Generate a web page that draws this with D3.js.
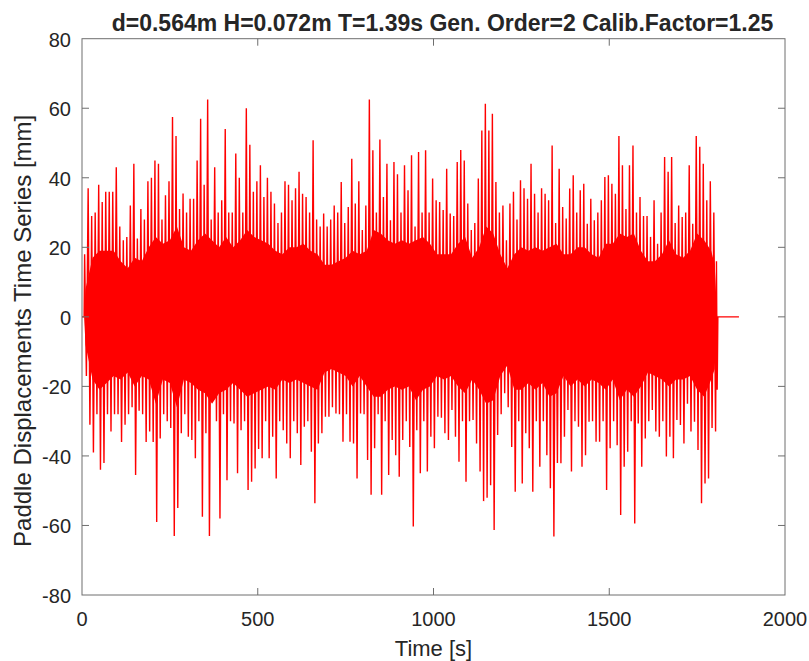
<!DOCTYPE html>
<html>
<head>
<meta charset="utf-8">
<script src="https://cdn.jsdelivr.net/npm/d3@7"></script>
<style>
  body { margin: 0; background: #fff; }
  text { font-family: Arial, "Liberation Sans", Helvetica, sans-serif; fill: #262626; }
</style>
</head>
<body>
<div id="chart"></div>
<script>
// Bin centres every 10 s from 10 s to 1800 s (max / min per bin, mm)
const binStart = 10;
const binStep = 10;
const peakHi = [
  18, 37, 29, 30, 38, 33, 36, 36, 36, 43,
  26, 22, 23, 32, 44, 22.5, 31, 28, 39, 40,
  45, 44, 28, 35, 39, 57.5, 52, 31, 35.5, 30,
  34, 34, 45, 57, 38, 62.5, 28, 43, 30, 33.5,
  54, 30, 30, 47, 40, 30, 60, 49.5, 36, 39,
  43.6, 34.5, 40, 36, 32.6, 27, 30, 39, 38, 33.5,
  37, 41.7, 35.4, 34.5, 30, 50.8, 28, 26, 29.7, 26,
  28, 32, 30, 38.8, 27, 31.6, 45.5, 32.6, 39, 25,
  32, 62.5, 47.9, 30, 51, 34.5, 44, 27.8, 44.5, 41,
  30, 43.6, 36.4, 46.5, 26, 47.4, 30, 47.9, 30, 39.8,
  33.5, 33, 30.7, 42.6, 29.7, 29, 44.5, 48, 45, 32.6,
  25, 27, 39.8, 53.6, 61.3, 53.6, 58.4, 38.8, 30, 32,
  22, 32.6, 36, 28, 39.3, 37, 34, 44, 35.4, 30,
  37, 35.4, 33.5, 49.3, 27, 42.6, 31.6, 28.3, 36.9, 40.7,
  30, 36.4, 38.3, 26.8, 34, 27.8, 30, 33.5, 40.2, 40.7,
  38.3, 35.4, 52, 43.6, 31, 43.6, 49.3, 30, 34.5, 29,
  29, 23, 33.5, 21, 30, 46, 41.7, 46, 27, 32,
  28.7, 30, 43.6, 26.8, 52, 48.9, 44, 33.5, 39, 30
];
const peakLo = [
  -17, -31, -39, -28, -44, -42, -28, -33, -28, -28,
  -36, -31, -28, -26, -45.5, -27, -28, -36, -33, -36,
  -59, -35, -28, -30, -32, -63, -55, -33.5, -28, -34.5,
  -35.4, -40.7, -30, -57.5, -33.5, -63, -24, -30, -58, -28,
  -47, -30, -30.7, -45, -32.6, -30, -49.8, -47.4, -43.6, -38,
  -40.7, -30, -40.7, -34.5, -46.5, -30, -32.6, -36.4, -40.7, -30,
  -33.5, -42.6, -31.6, -30, -38.8, -53.6, -36.4, -33.5, -28.7, -28.7,
  -26, -27.8, -28, -35.9, -28, -35.9, -36.4, -46.5, -27.8, -28,
  -41.2, -51.2, -37.8, -28, -51.2, -30, -45.5, -35.4, -39.8, -46,
  -35.4, -30, -37.4, -60.3, -32.6, -45, -30, -44.5, -34.5, -37.8,
  -28.7, -29, -33.5, -35.4, -26.8, -34.5, -41.7, -30, -47.4, -30,
  -29.7, -36.4, -44.5, -53, -52, -48.4, -61.3, -34, -28, -22,
  -26, -37.4, -50.3, -30, -47.9, -33.5, -37.8, -50.3, -30, -43.1,
  -30, -39.8, -49.3, -63.2, -42, -42.1, -34.5, -26.8, -44.5, -30,
  -31.6, -43.1, -39.8, -30.2, -30, -35.9, -35.9, -30, -49.8, -37.8,
  -30, -36.9, -57, -43.1, -38.8, -30, -59.4, -30.7, -43.1, -35,
  -30, -26.8, -33, -34.5, -30, -40.2, -34.5, -40.7, -29.7, -31.1,
  -36.4, -25, -33, -30.2, -38.3, -53.6, -47.9, -46.5, -32, -33
];
// quiet start and tail of the record
const headT = [0, 6];
const headV = [0, 0];
const tailT = [1805, 1807, 1809, 1869];
const tailV = [16, -21, 0, 0];

// edge of the solid core, every 20 s from 10 s to 1790 s (mm)
const coreStart = 10;
const coreStep = 20;
const coreHi = [
  8, 17, 19, 19, 19, 16, 14, 17, 16, 20,
  23, 21, 22, 26, 20, 19, 22, 24, 22, 20,
  23, 20, 22, 25, 23, 22, 21, 19, 18, 20,
  20, 21, 19, 18, 15, 15, 16, 17, 19, 18,
  19, 25, 24, 22, 21, 22, 21, 22, 23, 21,
  18, 18, 18, 21, 23, 17, 20, 26, 24, 18,
  14, 18, 20, 19, 20, 19, 20, 21, 18, 18,
  20, 20, 18, 17, 21, 21, 24, 23, 24, 19,
  16, 16, 18, 22, 18, 17, 19, 24, 22, 19
];
const coreLo = [
  -8, -18, -21, -19, -17, -18, -16, -20, -17, -18,
  -25, -18, -19, -26, -18, -19, -21, -22, -25, -22,
  -21, -19, -21, -23, -22, -21, -20, -21, -18, -19,
  -18, -19, -20, -21, -16, -15, -16, -17, -20, -17,
  -20, -23, -23, -21, -20, -21, -20, -24, -21, -20,
  -17, -18, -17, -20, -22, -18, -21, -25, -24, -17,
  -14, -21, -21, -19, -21, -19, -23, -22, -17, -20,
  -18, -20, -18, -19, -21, -18, -24, -21, -23, -20,
  -16, -17, -18, -20, -18, -18, -17, -21, -23, -18
];
const coreEndT = [1800, 1807];
const coreEndHi = [15, 0];
const coreEndLo = [-15, 0];

const xTicks = [0, 500, 1000, 1500, 2000];
const yTicks = [-80, -60, -40, -20, 0, 20, 40, 60, 80];

const titleText = 'd=0.564m H=0.072m T=1.39s Gen. Order=2 Calib.Factor=1.25';
const xLabel = 'Time [s]';
const yLabel = 'Paddle Displacements Time Series [mm]';

const width = 809, height = 661;
const margin = { top: 38.7, right: 24, bottom: 66, left: 82 };

const svg = d3.select('#chart').append('svg')
  .attr('width', width)
  .attr('height', height);

const x = d3.scaleLinear().domain([0, 2000]).range([margin.left, width - margin.right]);
const y = d3.scaleLinear().domain([-80, 80]).range([height - margin.bottom, margin.top]);

// zig-zag through the per-bin extremes
const pts = [];
headT.forEach((t, i) => pts.push([t, headV[i]]));
peakHi.forEach((hi, i) => {
  const t = binStart + i * binStep;
  pts.push([t - 2.5, hi]);
  pts.push([t + 2.5, peakLo[i]]);
});
tailT.forEach((t, i) => pts.push([t, tailV[i]]));

const core = [{ t: headT[1], hi: 0, lo: 0 }];
coreHi.forEach((hi, i) => core.push({ t: coreStart + i * coreStep, hi, lo: coreLo[i] }));
coreEndT.forEach((t, i) => core.push({ t, hi: coreEndHi[i], lo: coreEndLo[i] }));

svg.append('path')
  .datum(core)
  .attr('fill', '#ff0000')
  .attr('d', d3.area().x(d => x(d.t)).y0(d => y(d.lo)).y1(d => y(d.hi)));

svg.append('path')
  .datum(pts)
  .attr('fill', 'none')
  .attr('stroke', '#ff0000')
  .attr('stroke-width', 1.4)
  .attr('d', d3.line().x(d => x(d[0])).y(d => y(d[1])));

// box + inward ticks on all four sides
const axisColor = '#6e6e6e';
const x0 = x.range()[0], x1 = x.range()[1], y0 = y.range()[0], y1 = y.range()[1];
svg.append('rect')
  .attr('x', x0).attr('y', y1)
  .attr('width', x1 - x0).attr('height', y0 - y1)
  .attr('fill', 'none').attr('stroke', axisColor).attr('stroke-width', 1);

const tickLen = 7;
const ticks = svg.append('g').attr('stroke', axisColor);
xTicks.slice(1, -1).forEach(d => {
  ticks.append('line').attr('x1', x(d)).attr('x2', x(d)).attr('y1', y0).attr('y2', y0 - tickLen);
  ticks.append('line').attr('x1', x(d)).attr('x2', x(d)).attr('y1', y1).attr('y2', y1 + tickLen);
});
yTicks.slice(1, -1).forEach(d => {
  ticks.append('line').attr('x1', x0).attr('x2', x0 + tickLen).attr('y1', y(d)).attr('y2', y(d));
  ticks.append('line').attr('x1', x1).attr('x2', x1 - tickLen).attr('y1', y(d)).attr('y2', y(d));
});

svg.append('g').selectAll('text')
  .data(xTicks)
  .join('text')
  .attr('x', d => x(d))
  .attr('y', y0 + 31)
  .attr('text-anchor', 'middle')
  .attr('font-size', 20)
  .text(d => d);

svg.append('g').selectAll('text')
  .data(yTicks)
  .join('text')
  .attr('x', x0 - 11)
  .attr('y', d => y(d) + 8)
  .attr('text-anchor', 'end')
  .attr('font-size', 20)
  .text(d => d);

svg.append('text')
  .attr('x', (x0 + x1) / 2)
  .attr('y', y0 + 61)
  .attr('text-anchor', 'middle')
  .attr('font-size', 22)
  .text(xLabel);

svg.append('text')
  .attr('transform', `translate(31,${(y0 + y1) / 2 + 14}) rotate(-90)`)
  .attr('text-anchor', 'middle')
  .attr('font-size', 24)
  .text(yLabel);

svg.append('text')
  .attr('x', (x0 + x1) / 2 + 9)
  .attr('y', 31)
  .attr('text-anchor', 'middle')
  .attr('font-size', 23)
  .attr('font-weight', 700)
  .attr('fill', '#000')
  .text(titleText);
</script>
</body>
</html>
